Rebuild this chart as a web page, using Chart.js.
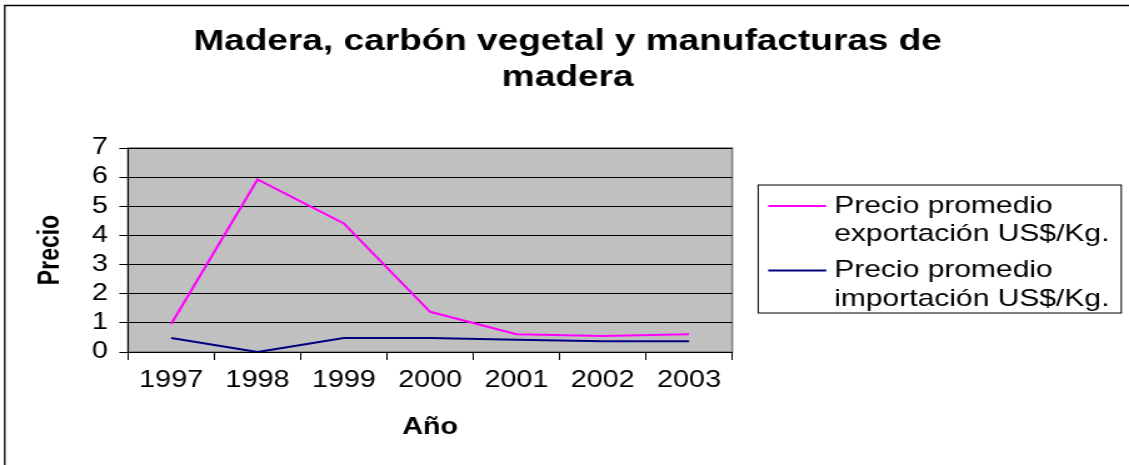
<!DOCTYPE html>
<html lang="es">
<head>
<meta charset="utf-8">
<title>Madera, carbón vegetal y manufacturas de madera</title>
<script src="https://cdn.jsdelivr.net/npm/chart.js@4.4.1/dist/chart.umd.min.js"></script>
<style>
    html, body {
        margin: 0;
        padding: 0;
        background: #ffffff;
        overflow: hidden;
    }
    /* the reference picture is stretched sideways, so the whole canvas is too */
    #wrap {
        width: 903px;
        height: 465px;
        transform: scale(1.2503, 1);
        transform-origin: 0 0;
    }
</style>
</head>
<body>
<div id="wrap">
    <canvas id="priceChart" width="903" height="465"></canvas>
</div>
<script>
const years = ["1997", "1998", "1999", "2000", "2001", "2002", "2003"];
const exportPrices = [0.96, 5.92, 4.41, 1.38, 0.61, 0.55, 0.61];
const importPrices = [0.48, 0.0, 0.48, 0.48, 0.42, 0.37, 0.37];
const yMin = 0;
const yMax = 7;
const titleLines = ["Madera, carbón vegetal y manufacturas de", "madera"];
const exportLabel = ["Precio promedio", "exportación US$/Kg."];
const importLabel = ["Precio promedio", "importación US$/Kg."];

const FONT = "'Liberation Sans', Arial, sans-serif";

const chartDecor = {
    id: "chartDecor",
    beforeDraw(chart) {
        const ctx = chart.ctx;
        const a = chart.chartArea;

        ctx.save();
        ctx.fillStyle = "#ffffff";
        ctx.fillRect(0, 0, chart.width, chart.height);

        // plot area
        ctx.fillStyle = "#c0c0c0";
        ctx.fillRect(a.left, a.top, a.right - a.left, a.bottom - a.top);
        ctx.strokeStyle = "#808080";
        ctx.lineWidth = 1.6;
        ctx.strokeRect(a.left, a.top, a.right - a.left, a.bottom - a.top);

        // outer frame (only top and left are inside the picture)
        ctx.strokeStyle = "#000000";
        ctx.lineWidth = 1.3;
        ctx.beginPath();
        ctx.moveTo(3.8, chart.height);
        ctx.lineTo(3.8, 5.5);
        ctx.lineTo(chart.width, 5.5);
        ctx.stroke();

        // title
        ctx.fillStyle = "#000000";
        ctx.font = "bold 29.6px " + FONT;
        ctx.textAlign = "center";
        ctx.textBaseline = "middle";
        titleLines.forEach((line, i) => {
            ctx.fillText(line, 454, 42 + i * 36);
        });
        ctx.restore();
    },
    afterDraw(chart) {
        const ctx = chart.ctx;
        const box = { left: 606.4, top: 185, right: 896.8, bottom: 313 };

        ctx.save();
        ctx.fillStyle = "#ffffff";
        ctx.fillRect(box.left, box.top, box.right - box.left, box.bottom - box.top);
        ctx.strokeStyle = "#000000";
        ctx.lineWidth = 1;
        ctx.strokeRect(box.left, box.top, box.right - box.left, box.bottom - box.top);

        ctx.font = "24px " + FONT;
        ctx.textAlign = "left";
        ctx.textBaseline = "alphabetic";

        let baseline = 212.5;
        chart.data.datasets.forEach(ds => {
            const lines = ds.label.split("\n");

            ctx.strokeStyle = ds.borderColor;
            ctx.lineWidth = 2;
            ctx.beginPath();
            ctx.moveTo(614.4, baseline - 6.5);
            ctx.lineTo(660.8, baseline - 6.5);
            ctx.stroke();

            ctx.fillStyle = "#000000";
            lines.forEach((line, i) => {
                ctx.fillText(line, 667.2, baseline + i * 28.5);
            });
            baseline += 64.5;
        });
        ctx.restore();
    }
};

function renderPriceChart() {
    const canvas = document.getElementById("priceChart");
    if (!canvas) return;

    new Chart(canvas.getContext("2d"), {
        type: "line",
        data: {
            labels: years,
            datasets: [
                {
                    label: exportLabel.join("\n"),
                    data: exportPrices,
                    borderColor: "#ff00ff",
                    borderWidth: 2,
                    pointRadius: 0,
                    tension: 0,
                    fill: false
                },
                {
                    label: importLabel.join("\n"),
                    data: importPrices,
                    borderColor: "#000080",
                    borderWidth: 2,
                    pointRadius: 0,
                    tension: 0,
                    fill: false
                }
            ]
        },
        options: {
            responsive: false,
            animation: false,
            devicePixelRatio: 1,
            layout: {
                padding: { top: 148, right: 317.4, bottom: 0, left: 0 }
            },
            plugins: {
                legend: { display: false },
                title: { display: false },
                tooltip: { enabled: false }
            },
            scales: {
                x: {
                    offset: true,
                    afterFit: scale => { scale.height = 113; },
                    grid: {
                        offset: true,
                        drawOnChartArea: false,
                        drawTicks: true,
                        tickLength: 8,
                        color: "#000000"
                    },
                    border: { color: "#000000", width: 1 },
                    ticks: {
                        color: "#000000",
                        padding: 7,
                        maxRotation: 0,
                        autoSkip: false,
                        font: { family: FONT, size: 23 }
                    },
                    title: {
                        display: true,
                        text: "Año",
                        color: "#000000",
                        padding: { top: 0, bottom: 24 },
                        font: { family: FONT, size: 23, weight: "bold" }
                    }
                },
                y: {
                    min: yMin,
                    max: yMax,
                    afterFit: scale => { scale.width = 102.4; },
                    grid: {
                        color: "#000000",
                        lineWidth: 1,
                        drawTicks: true,
                        tickLength: 7
                    },
                    border: { color: "#000000", width: 1 },
                    ticks: {
                        stepSize: 1,
                        autoSkip: false,
                        color: "#000000",
                        padding: 9,
                        font: { family: FONT, size: 23 }
                    },
                    title: {
                        display: true,
                        text: "Precio",
                        color: "#000000",
                        padding: { top: 27, bottom: 0 },
                        font: { family: FONT, size: 23, weight: "bold" }
                    }
                }
            }
        },
        plugins: [chartDecor]
    });
}

document.addEventListener("DOMContentLoaded", function () {
    renderPriceChart();
});
</script>
</body>
</html>
